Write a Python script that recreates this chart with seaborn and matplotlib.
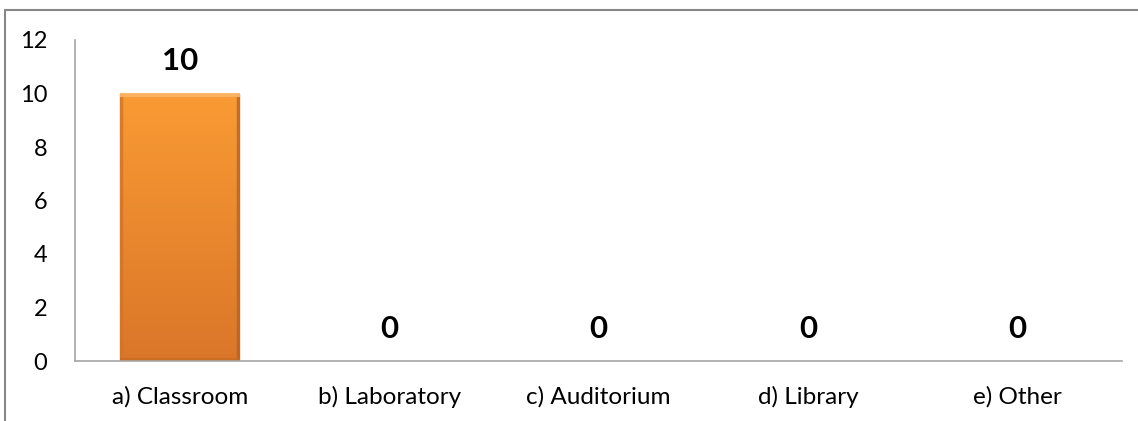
import numpy as np
import pandas as pd
import matplotlib
matplotlib.use("Agg")
import matplotlib.pyplot as plt
from matplotlib.lines import Line2D
import seaborn as sns

categories = ["a) Classroom", "b) Laboratory", "c) Auditorium", "d) Library", "e) Other"]
counts = [10, 0, 0, 0, 0]

sns.set_theme(style="white")
plt.rcParams["font.family"] = ["Lato", "DejaVu Sans"]

W, H = 1138, 421
fig = plt.figure(figsize=(W / 100, H / 100), dpi=100)
ax = fig.add_axes([75 / W, 1 - 361 / H, (1122 - 75) / W, (361 - 40) / H])

df = pd.DataFrame({"category": categories, "count": counts})
sns.barplot(data=df, x="category", y="count", ax=ax, color="#F28E2F",
            width=0.573, saturation=1, edgecolor="none")

# vertical orange gradient with soft bevelled rims, clipped to each bar
grad = np.linspace(0, 1, 256)[:, None]
top = np.array([0.976, 0.608, 0.204])
bot = np.array([0.855, 0.463, 0.161])
img = top[None, None, :] * (1 - grad[..., None]) + bot[None, None, :] * grad[..., None]
img = np.repeat(img, 2, axis=1)
for p in ax.patches:
    x0, y0 = p.get_x(), p.get_y()
    w, h = p.get_width(), p.get_height()
    if h <= 0:
        continue
    z = p.get_zorder()
    im = ax.imshow(img, extent=[x0, x0 + w, y0, y0 + h], aspect="auto",
                   origin="upper", zorder=z + 0.1)
    im.set_clip_path(p)
    ax.plot([x0 + w * 0.012] * 2, [y0, y0 + h], color="#D27427", lw=2.5,
            alpha=0.8, zorder=z + 0.2, solid_capstyle="butt")
    ax.plot([x0 + w * 0.988] * 2, [y0, y0 + h], color="#B8621F", lw=2.5,
            alpha=0.8, zorder=z + 0.2, solid_capstyle="butt")
    ax.plot([x0, x0 + w], [y0 + h - 0.05] * 2, color="#FCB463", lw=3,
            alpha=0.9, zorder=z + 0.2, solid_capstyle="butt")
    ax.plot([x0, x0 + w], [y0 + 0.05] * 2, color="#C96C22", lw=3,
            alpha=0.8, zorder=z + 0.2, solid_capstyle="butt")

# value labels above bars
for i, v in enumerate(counts):
    ax.annotate(str(v), xy=(i, v), xytext=(0, 13), textcoords="offset points",
                ha="center", va="bottom", fontsize=22.5, fontweight="bold",
                color="black")

ax.set_xlim(-0.5, 4.5)
ax.set_ylim(0, 12)
ax.set_yticks(range(0, 13, 2))
ax.set_xlabel("")
ax.set_ylabel("")
ax.tick_params(axis="y", length=0, pad=20, labelsize=17, labelcolor="black")
ax.tick_params(axis="x", length=0, pad=18, labelsize=17.5, labelcolor="black")
for s in ["top", "right"]:
    ax.spines[s].set_visible(False)
for s in ["left", "bottom"]:
    ax.spines[s].set_color("#A6A6A6")
    ax.spines[s].set_linewidth(1.2)

# chart area border (top and left edges)
bx, by = 5 / W, 1 - 10 / H
fig.add_artist(Line2D([bx, 1], [by, by], transform=fig.transFigure,
                      color="#878787", lw=1.5))
fig.add_artist(Line2D([bx, bx], [0, by], transform=fig.transFigure,
                      color="#878787", lw=1.5))

fig.savefig("out.png", dpi=100)
